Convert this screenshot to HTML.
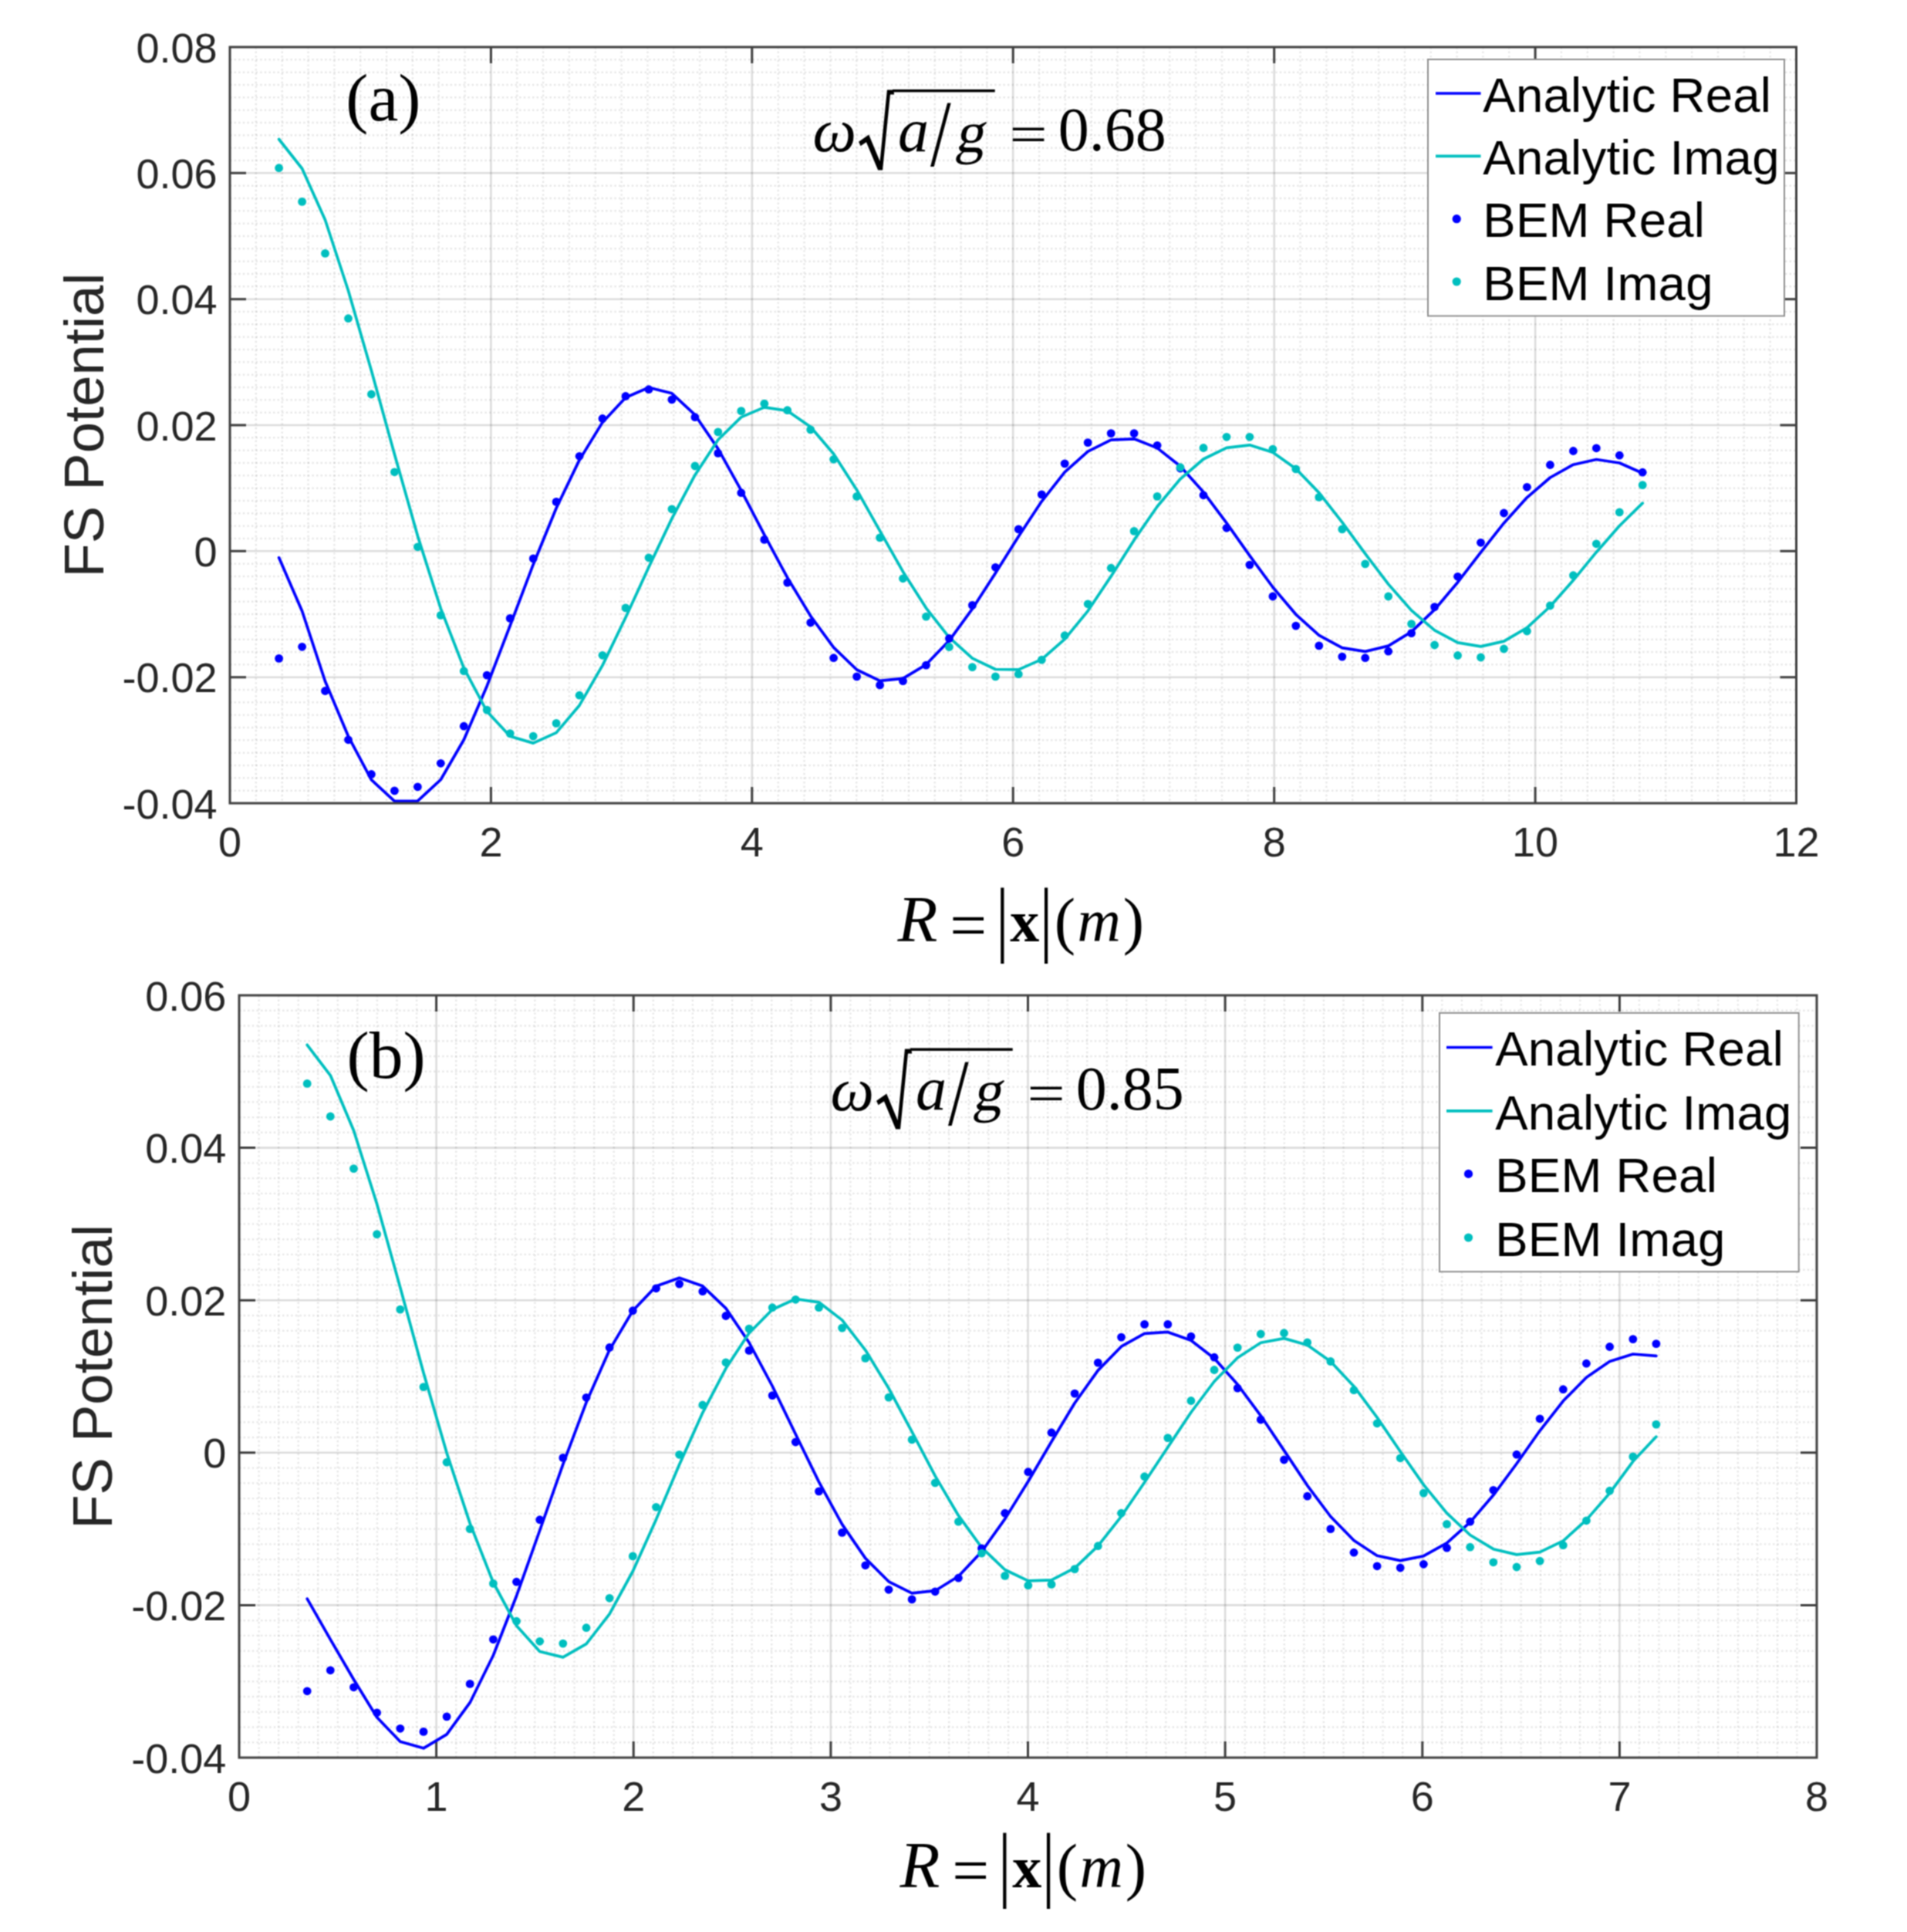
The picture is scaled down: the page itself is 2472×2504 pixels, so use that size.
<!DOCTYPE html>
<html><head><meta charset="utf-8"><title>FS Potential</title>
<style>html,body{margin:0;padding:0;background:#fff;width:2472px;height:2504px;overflow:hidden}svg{display:block}</style>
</head><body>
<svg width="2472" height="2504" viewBox="0 0 2472 2504">
<defs><filter id="soft" x="0" y="0" width="2472" height="2504" filterUnits="userSpaceOnUse" color-interpolation-filters="sRGB"><feConvolveMatrix order="3" kernelMatrix="1 2 1 2 4 2 1 2 1" divisor="16" edgeMode="duplicate"/></filter></defs>
<g filter="url(#soft)">
<rect width="2472" height="2504" fill="#fff"/>
<path d="M331.8 61V1041M365.7 61V1041M399.5 61V1041M433.4 61V1041M467.2 61V1041M501.1 61V1041M534.9 61V1041M568.7 61V1041M602.6 61V1041M670.3 61V1041M704.1 61V1041M737.9 61V1041M771.8 61V1041M805.6 61V1041M839.5 61V1041M873.3 61V1041M907.1 61V1041M941 61V1041M1008.7 61V1041M1042.5 61V1041M1076.4 61V1041M1110.2 61V1041M1144 61V1041M1177.9 61V1041M1211.7 61V1041M1245.6 61V1041M1279.4 61V1041M1347.1 61V1041M1380.9 61V1041M1414.8 61V1041M1448.6 61V1041M1482.5 61V1041M1516.3 61V1041M1550.1 61V1041M1584 61V1041M1617.8 61V1041M1685.5 61V1041M1719.4 61V1041M1753.2 61V1041M1787 61V1041M1820.9 61V1041M1854.7 61V1041M1888.6 61V1041M1922.4 61V1041M1956.2 61V1041M2023.9 61V1041M2057.8 61V1041M2091.6 61V1041M2125.4 61V1041M2159.3 61V1041M2193.1 61V1041M2227 61V1041M2260.8 61V1041M2294.7 61V1041" stroke="#262626" stroke-opacity="0.11" stroke-width="2.4" stroke-dasharray="2.4 3.2" fill="none"/>
<path d="M298 1024.7H2328.5M298 1008.3H2328.5M298 992H2328.5M298 975.7H2328.5M298 959.3H2328.5M298 943H2328.5M298 926.7H2328.5M298 910.3H2328.5M298 894H2328.5M298 861.3H2328.5M298 845H2328.5M298 828.7H2328.5M298 812.3H2328.5M298 796H2328.5M298 779.7H2328.5M298 763.3H2328.5M298 747H2328.5M298 730.7H2328.5M298 698H2328.5M298 681.7H2328.5M298 665.3H2328.5M298 649H2328.5M298 632.7H2328.5M298 616.3H2328.5M298 600H2328.5M298 583.7H2328.5M298 567.3H2328.5M298 534.7H2328.5M298 518.3H2328.5M298 502H2328.5M298 485.7H2328.5M298 469.3H2328.5M298 453H2328.5M298 436.7H2328.5M298 420.3H2328.5M298 404H2328.5M298 371.3H2328.5M298 355H2328.5M298 338.7H2328.5M298 322.3H2328.5M298 306H2328.5M298 289.7H2328.5M298 273.3H2328.5M298 257H2328.5M298 240.7H2328.5M298 208H2328.5M298 191.7H2328.5M298 175.3H2328.5M298 159H2328.5M298 142.7H2328.5M298 126.3H2328.5M298 110H2328.5M298 93.7H2328.5M298 77.3H2328.5" stroke="#262626" stroke-opacity="0.11" stroke-width="2.4" stroke-dasharray="2.4 3.2" fill="none"/>
<path d="M636.4 61V1041M974.8 61V1041M1313.2 61V1041M1651.7 61V1041M1990.1 61V1041" stroke="#262626" stroke-opacity="0.16" stroke-width="2.6" fill="none"/>
<path d="M298 877.7H2328.5M298 714.3H2328.5M298 551H2328.5M298 387.7H2328.5M298 224.3H2328.5" stroke="#262626" stroke-opacity="0.16" stroke-width="2.6" fill="none"/>
<path d="M636.4 1041V1020M636.4 61V82M974.8 1041V1020M974.8 61V82M1313.2 1041V1020M1313.2 61V82M1651.7 1041V1020M1651.7 61V82M1990.1 1041V1020M1990.1 61V82M298 877.7H319M2328.5 877.7H2307.5M298 714.3H319M2328.5 714.3H2307.5M298 551H319M2328.5 551H2307.5M298 387.7H319M2328.5 387.7H2307.5M298 224.3H319M2328.5 224.3H2307.5" stroke="#404040" stroke-width="3" fill="none"/>
<polyline points="361.6,722.8 391.6,792 421.5,883 451.5,954.3 481.4,1010.7 511.4,1038.4 541.4,1038.1 571.3,1010.5 601.3,958.8 631.2,889.2 661.2,810.9 691.2,731.7 721.1,658.5 751.1,596.1 781,547.4 811,515.2 841,502.2 870.9,509.8 900.9,537.7 930.8,581.6 960.8,635.6 990.8,693.2 1020.7,748.7 1050.7,798.3 1080.6,839.1 1110.6,868 1140.6,882.3 1170.5,879.4 1200.5,861.3 1230.4,830.3 1260.4,789.2 1290.4,742.8 1320.3,695.2 1350.3,649.8 1380.2,611.9 1410.2,585.1 1440.2,570.1 1470.1,568.8 1500.1,580.6 1530,604.2 1560,637.8 1590,677.9 1619.9,720.1 1649.9,761 1679.8,796.3 1709.8,823.4 1739.8,839.6 1769.7,844.4 1799.7,837.1 1829.6,818.9 1859.6,790.2 1889.6,754.7 1919.5,715.8 1949.5,677.9 1979.4,644.8 2009.4,619 2039.4,602.2 2069.3,595.5 2099.3,600 2129.2,613.2" fill="none" stroke="#0000ff" stroke-width="3.7" stroke-linejoin="round" stroke-linecap="round"/>
<polyline points="361.6,180.5 391.6,218.5 421.5,285 451.5,376.8 481.4,480.3 511.4,588.8 541.4,694.6 571.3,788.6 601.3,865.8 631.2,922 661.2,954.3 691.2,963.1 721.1,949.6 751.1,914.2 781,862.4 811,800.3 841,735.1 870.9,672.1 900.9,615.7 930.8,570 960.8,540.6 990.8,527.9 1020.7,532.5 1050.7,553.2 1080.6,588.3 1110.6,634.9 1140.6,688.1 1170.5,740.9 1200.5,788.1 1230.4,826.2 1260.4,853.2 1290.4,867.5 1320.3,867.9 1350.3,854.6 1380.2,828.4 1410.2,791.8 1440.2,746.9 1470.1,699.9 1500.1,656.5 1530,620.8 1560,595 1590,580.4 1619.9,576.8 1649.9,586.2 1679.8,607.5 1709.8,638.6 1739.8,676.9 1769.7,717.7 1799.7,757.1 1829.6,791.1 1859.6,816.9 1889.6,832.9 1919.5,837.9 1949.5,831.1 1979.4,813.7 2009.4,786 2039.4,752.1 2069.3,715.7 2099.3,681.5 2129.2,652.1" fill="none" stroke="#00bfbf" stroke-width="3.7" stroke-linejoin="round" stroke-linecap="round"/>
<g fill="#0000ff"><circle cx="361.6" cy="853.4" r="5.4"/><circle cx="391.6" cy="838.3" r="5.4"/><circle cx="421.5" cy="895.5" r="5.4"/><circle cx="451.5" cy="958.8" r="5.4"/><circle cx="481.4" cy="1003.5" r="5.4"/><circle cx="511.4" cy="1024.9" r="5.4"/><circle cx="541.4" cy="1019.8" r="5.4"/><circle cx="571.3" cy="989.3" r="5.4"/><circle cx="601.3" cy="941.2" r="5.4"/><circle cx="631.2" cy="875.1" r="5.4"/><circle cx="661.2" cy="801.4" r="5.4"/><circle cx="691.2" cy="724" r="5.4"/><circle cx="721.1" cy="650.4" r="5.4"/><circle cx="751.1" cy="591.3" r="5.4"/><circle cx="781" cy="542.5" r="5.4"/><circle cx="811" cy="513.5" r="5.4"/><circle cx="841" cy="504.7" r="5.4"/><circle cx="870.9" cy="517.9" r="5.4"/><circle cx="900.9" cy="540.7" r="5.4"/><circle cx="930.8" cy="587.4" r="5.4"/><circle cx="960.8" cy="638.7" r="5.4"/><circle cx="990.8" cy="699.4" r="5.4"/><circle cx="1020.7" cy="755.1" r="5.4"/><circle cx="1050.7" cy="807" r="5.4"/><circle cx="1080.6" cy="852.7" r="5.4"/><circle cx="1110.6" cy="876.9" r="5.4"/><circle cx="1140.6" cy="887.9" r="5.4"/><circle cx="1170.5" cy="882.6" r="5.4"/><circle cx="1200.5" cy="862.1" r="5.4"/><circle cx="1230.4" cy="827.5" r="5.4"/><circle cx="1260.4" cy="784.4" r="5.4"/><circle cx="1290.4" cy="735.3" r="5.4"/><circle cx="1320.3" cy="685.9" r="5.4"/><circle cx="1350.3" cy="640.9" r="5.4"/><circle cx="1380.2" cy="600.9" r="5.4"/><circle cx="1410.2" cy="573.6" r="5.4"/><circle cx="1440.2" cy="561.6" r="5.4"/><circle cx="1470.1" cy="561.6" r="5.4"/><circle cx="1500.1" cy="577.3" r="5.4"/><circle cx="1530" cy="607" r="5.4"/><circle cx="1560" cy="641.8" r="5.4"/><circle cx="1590" cy="684.3" r="5.4"/><circle cx="1619.9" cy="732.1" r="5.4"/><circle cx="1649.9" cy="773" r="5.4"/><circle cx="1679.8" cy="811.1" r="5.4"/><circle cx="1709.8" cy="836.9" r="5.4"/><circle cx="1739.8" cy="851.1" r="5.4"/><circle cx="1769.7" cy="852.7" r="5.4"/><circle cx="1799.7" cy="844.2" r="5.4"/><circle cx="1829.6" cy="820.6" r="5.4"/><circle cx="1859.6" cy="786.6" r="5.4"/><circle cx="1889.6" cy="747.3" r="5.4"/><circle cx="1919.5" cy="703.3" r="5.4"/><circle cx="1949.5" cy="665" r="5.4"/><circle cx="1979.4" cy="631.3" r="5.4"/><circle cx="2009.4" cy="602.5" r="5.4"/><circle cx="2039.4" cy="584.5" r="5.4"/><circle cx="2069.3" cy="580.8" r="5.4"/><circle cx="2099.3" cy="590.2" r="5.4"/><circle cx="2129.2" cy="612.2" r="5.4"/></g>
<g fill="#00bfbf"><circle cx="361.6" cy="217.7" r="5.4"/><circle cx="391.6" cy="261.4" r="5.4"/><circle cx="421.5" cy="328.4" r="5.4"/><circle cx="451.5" cy="412.7" r="5.4"/><circle cx="481.4" cy="511" r="5.4"/><circle cx="511.4" cy="611.8" r="5.4"/><circle cx="541.4" cy="708.8" r="5.4"/><circle cx="571.3" cy="797.4" r="5.4"/><circle cx="601.3" cy="869.7" r="5.4"/><circle cx="631.2" cy="920.1" r="5.4"/><circle cx="661.2" cy="950.6" r="5.4"/><circle cx="691.2" cy="954.1" r="5.4"/><circle cx="721.1" cy="937.4" r="5.4"/><circle cx="751.1" cy="901.2" r="5.4"/><circle cx="781" cy="849.3" r="5.4"/><circle cx="811" cy="787.9" r="5.4"/><circle cx="841" cy="722.8" r="5.4"/><circle cx="870.9" cy="659.8" r="5.4"/><circle cx="900.9" cy="604" r="5.4"/><circle cx="930.8" cy="559.9" r="5.4"/><circle cx="960.8" cy="532.6" r="5.4"/><circle cx="990.8" cy="523.2" r="5.4"/><circle cx="1020.7" cy="531.7" r="5.4"/><circle cx="1050.7" cy="556.9" r="5.4"/><circle cx="1080.6" cy="595.3" r="5.4"/><circle cx="1110.6" cy="643.4" r="5.4"/><circle cx="1140.6" cy="696.9" r="5.4"/><circle cx="1170.5" cy="749.8" r="5.4"/><circle cx="1200.5" cy="799.2" r="5.4"/><circle cx="1230.4" cy="838.5" r="5.4"/><circle cx="1260.4" cy="864.6" r="5.4"/><circle cx="1290.4" cy="876.9" r="5.4"/><circle cx="1320.3" cy="873.7" r="5.4"/><circle cx="1350.3" cy="855.2" r="5.4"/><circle cx="1380.2" cy="823.7" r="5.4"/><circle cx="1410.2" cy="782.8" r="5.4"/><circle cx="1440.2" cy="736.2" r="5.4"/><circle cx="1470.1" cy="688.4" r="5.4"/><circle cx="1500.1" cy="643.4" r="5.4"/><circle cx="1530" cy="605.7" r="5.4"/><circle cx="1560" cy="580.5" r="5.4"/><circle cx="1590" cy="566.3" r="5.4"/><circle cx="1619.9" cy="566.3" r="5.4"/><circle cx="1649.9" cy="582.1" r="5.4"/><circle cx="1679.8" cy="607.9" r="5.4"/><circle cx="1709.8" cy="644.4" r="5.4"/><circle cx="1739.8" cy="685.9" r="5.4"/><circle cx="1769.7" cy="730.9" r="5.4"/><circle cx="1799.7" cy="773" r="5.4"/><circle cx="1829.6" cy="808.6" r="5.4"/><circle cx="1859.6" cy="836" r="5.4"/><circle cx="1889.6" cy="849.5" r="5.4"/><circle cx="1919.5" cy="852" r="5.4"/><circle cx="1949.5" cy="841" r="5.4"/><circle cx="1979.4" cy="818" r="5.4"/><circle cx="2009.4" cy="785" r="5.4"/><circle cx="2039.4" cy="745.7" r="5.4"/><circle cx="2069.3" cy="704.8" r="5.4"/><circle cx="2099.3" cy="663.9" r="5.4"/><circle cx="2129.2" cy="628.6" r="5.4"/></g>
<rect x="298" y="61" width="2030.5" height="980" fill="none" stroke="#404040" stroke-width="3"/>
<g font-family="Liberation Sans, sans-serif" font-size="54" fill="#262626"><text x="298" y="1110" text-anchor="middle">0</text><text x="636.4" y="1110" text-anchor="middle">2</text><text x="974.8" y="1110" text-anchor="middle">4</text><text x="1313.2" y="1110" text-anchor="middle">6</text><text x="1651.7" y="1110" text-anchor="middle">8</text><text x="1990.1" y="1110" text-anchor="middle">10</text><text x="2328.5" y="1110" text-anchor="middle">12</text><text x="281.6" y="1060.5" text-anchor="end">-0.04</text><text x="281.6" y="897.2" text-anchor="end">-0.02</text><text x="281.6" y="733.8" text-anchor="end">0</text><text x="281.6" y="570.5" text-anchor="end">0.02</text><text x="281.6" y="407.2" text-anchor="end">0.04</text><text x="281.6" y="243.8" text-anchor="end">0.06</text><text x="281.6" y="80.5" text-anchor="end">0.08</text></g>
<text transform="translate(133.7 551) rotate(-90)" text-anchor="middle" font-family="Liberation Sans, sans-serif" font-size="72.5" fill="#262626">FS Potential</text>
<path d="M335.6 1290V2278M361.1 1290V2278M386.7 1290V2278M412.2 1290V2278M437.8 1290V2278M463.4 1290V2278M488.9 1290V2278M514.5 1290V2278M540.1 1290V2278M591.2 1290V2278M616.8 1290V2278M642.3 1290V2278M667.9 1290V2278M693.4 1290V2278M719 1290V2278M744.6 1290V2278M770.1 1290V2278M795.7 1290V2278M846.8 1290V2278M872.4 1290V2278M897.9 1290V2278M923.5 1290V2278M949.1 1290V2278M974.6 1290V2278M1000.2 1290V2278M1025.8 1290V2278M1051.3 1290V2278M1102.4 1290V2278M1128 1290V2278M1153.6 1290V2278M1179.1 1290V2278M1204.7 1290V2278M1230.2 1290V2278M1255.8 1290V2278M1281.4 1290V2278M1306.9 1290V2278M1358.1 1290V2278M1383.6 1290V2278M1409.2 1290V2278M1434.8 1290V2278M1460.3 1290V2278M1485.9 1290V2278M1511.4 1290V2278M1537 1290V2278M1562.6 1290V2278M1613.7 1290V2278M1639.2 1290V2278M1664.8 1290V2278M1690.4 1290V2278M1715.9 1290V2278M1741.5 1290V2278M1767.1 1290V2278M1792.6 1290V2278M1818.2 1290V2278M1869.3 1290V2278M1894.9 1290V2278M1920.4 1290V2278M1946 1290V2278M1971.6 1290V2278M1997.1 1290V2278M2022.7 1290V2278M2048.2 1290V2278M2073.8 1290V2278M2124.9 1290V2278M2150.5 1290V2278M2176.1 1290V2278M2201.6 1290V2278M2227.2 1290V2278M2252.8 1290V2278M2278.3 1290V2278M2303.9 1290V2278M2329.4 1290V2278" stroke="#262626" stroke-opacity="0.11" stroke-width="2.4" stroke-dasharray="2.4 3.2" fill="none"/>
<path d="M310 2258.2H2355M310 2238.5H2355M310 2218.7H2355M310 2199H2355M310 2179.2H2355M310 2159.4H2355M310 2139.7H2355M310 2119.9H2355M310 2100.2H2355M310 2060.6H2355M310 2040.9H2355M310 2021.1H2355M310 2001.4H2355M310 1981.6H2355M310 1961.8H2355M310 1942.1H2355M310 1922.3H2355M310 1902.6H2355M310 1863H2355M310 1843.3H2355M310 1823.5H2355M310 1803.8H2355M310 1784H2355M310 1764.2H2355M310 1744.5H2355M310 1724.7H2355M310 1705H2355M310 1665.4H2355M310 1645.7H2355M310 1625.9H2355M310 1606.2H2355M310 1586.4H2355M310 1566.6H2355M310 1546.9H2355M310 1527.1H2355M310 1507.4H2355M310 1467.8H2355M310 1448.1H2355M310 1428.3H2355M310 1408.6H2355M310 1388.8H2355M310 1369H2355M310 1349.3H2355M310 1329.5H2355M310 1309.8H2355" stroke="#262626" stroke-opacity="0.11" stroke-width="2.4" stroke-dasharray="2.4 3.2" fill="none"/>
<path d="M565.6 1290V2278M821.2 1290V2278M1076.9 1290V2278M1332.5 1290V2278M1588.1 1290V2278M1843.8 1290V2278M2099.4 1290V2278" stroke="#262626" stroke-opacity="0.16" stroke-width="2.6" fill="none"/>
<path d="M310 2080.4H2355M310 1882.8H2355M310 1685.2H2355M310 1487.6H2355" stroke="#262626" stroke-opacity="0.16" stroke-width="2.6" fill="none"/>
<path d="M565.6 2278V2257M565.6 1290V1311M821.2 2278V2257M821.2 1290V1311M1076.9 2278V2257M1076.9 1290V1311M1332.5 2278V2257M1332.5 1290V1311M1588.1 2278V2257M1588.1 1290V1311M1843.8 2278V2257M1843.8 1290V1311M2099.4 2278V2257M2099.4 1290V1311M310 2080.4H331M2355 2080.4H2334M310 1882.8H331M2355 1882.8H2334M310 1685.2H331M2355 1685.2H2334M310 1487.6H331M2355 1487.6H2334" stroke="#404040" stroke-width="3" fill="none"/>
<polyline points="398.2,2072.2 428.3,2124.8 458.5,2176.7 488.6,2225.8 518.8,2257.2 549,2265.8 579.1,2247.9 609.2,2206.7 639.4,2145.5 669.5,2068.5 699.7,1983.5 729.8,1897.8 760,1817.6 790.1,1749.6 820.3,1698.8 850.5,1667.1 880.6,1656.3 910.8,1666.8 940.9,1695.6 971,1740 1001.2,1796.5 1031.3,1858.7 1061.5,1920.6 1091.6,1975.6 1121.8,2019.6 1152,2049.8 1182.1,2064.8 1212.2,2061.7 1242.4,2043 1272.5,2011 1302.7,1968.6 1332.8,1920 1363,1868.5 1393.1,1818.5 1423.3,1776.1 1453.5,1745.2 1483.6,1728.3 1513.8,1726.4 1543.9,1737.3 1574,1760.5 1604.2,1794.3 1634.3,1834.8 1664.5,1879.9 1694.7,1925.3 1724.8,1965.5 1755,1996.5 1785.1,2016.3 1815.2,2022.6 1845.4,2016.7 1875.5,1999.9 1905.7,1972.9 1935.8,1937.8 1966,1897 1996.1,1854.3 2026.3,1815.8 2056.4,1785.2 2086.6,1764.5 2116.8,1755 2146.9,1757.3" fill="none" stroke="#0000ff" stroke-width="3.7" stroke-linejoin="round" stroke-linecap="round"/>
<polyline points="398.2,1354.3 428.3,1393.8 458.5,1465.2 488.6,1560.4 518.8,1668.7 549,1779.3 579.1,1883.1 609.2,1974.4 639.4,2051 669.5,2106.9 699.7,2140.5 729.8,2147.9 760,2130.7 790.1,2091.9 820.3,2036.5 850.5,1969.4 880.6,1898.3 910.8,1831.1 940.9,1773.6 971,1727.8 1001.2,1697.3 1031.3,1683.5 1061.5,1687.8 1091.6,1710.9 1121.8,1749.8 1152,1799.3 1182.1,1855.6 1212.2,1912.9 1242.4,1964.2 1272.5,2005.7 1302.7,2034.5 1332.8,2048.9 1363,2047.8 1393.1,2032.3 1423.3,2003.7 1453.5,1965.3 1483.6,1921.2 1513.8,1875.7 1543.9,1830.5 1574,1790.5 1604.2,1759.7 1634.3,1740.2 1664.5,1734.6 1694.7,1743.2 1724.8,1764.6 1755,1796.7 1785.1,1837.1 1815.2,1881.3 1845.4,1924.4 1875.5,1961.2 1905.7,1989.5 1935.8,2007.7 1966,2014.9 1996.1,2011.6 2026.3,1997.1 2056.4,1969.9 2086.6,1935.2 2116.8,1894.1 2146.9,1862.1" fill="none" stroke="#00bfbf" stroke-width="3.7" stroke-linejoin="round" stroke-linecap="round"/>
<g fill="#0000ff"><circle cx="398.2" cy="2191.8" r="5.4"/><circle cx="428.3" cy="2164.8" r="5.4"/><circle cx="458.5" cy="2186.8" r="5.4"/><circle cx="488.6" cy="2219.8" r="5.4"/><circle cx="518.8" cy="2240.3" r="5.4"/><circle cx="549" cy="2244.4" r="5.4"/><circle cx="579.1" cy="2224.9" r="5.4"/><circle cx="609.2" cy="2182.4" r="5.4"/><circle cx="639.4" cy="2124.8" r="5.4"/><circle cx="669.5" cy="2050.2" r="5.4"/><circle cx="699.7" cy="1969.7" r="5.4"/><circle cx="729.8" cy="1889.4" r="5.4"/><circle cx="760" cy="1811.3" r="5.4"/><circle cx="790.1" cy="1746.5" r="5.4"/><circle cx="820.3" cy="1698.7" r="5.4"/><circle cx="850.5" cy="1669.8" r="5.4"/><circle cx="880.6" cy="1664.1" r="5.4"/><circle cx="910.8" cy="1673.7" r="5.4"/><circle cx="940.9" cy="1705.5" r="5.4"/><circle cx="971" cy="1750.4" r="5.4"/><circle cx="1001.2" cy="1808.6" r="5.4"/><circle cx="1031.3" cy="1869" r="5.4"/><circle cx="1061.5" cy="1932.9" r="5.4"/><circle cx="1091.6" cy="1986.4" r="5.4"/><circle cx="1121.8" cy="2028.8" r="5.4"/><circle cx="1152" cy="2060.3" r="5.4"/><circle cx="1182.1" cy="2072.9" r="5.4"/><circle cx="1212.2" cy="2062.8" r="5.4"/><circle cx="1242.4" cy="2045.2" r="5.4"/><circle cx="1272.5" cy="2006.8" r="5.4"/><circle cx="1302.7" cy="1961.2" r="5.4"/><circle cx="1332.8" cy="1907.7" r="5.4"/><circle cx="1363" cy="1856.7" r="5.4"/><circle cx="1393.1" cy="1806.1" r="5.4"/><circle cx="1423.3" cy="1766.1" r="5.4"/><circle cx="1453.5" cy="1733.1" r="5.4"/><circle cx="1483.6" cy="1716.4" r="5.4"/><circle cx="1513.8" cy="1716.4" r="5.4"/><circle cx="1543.9" cy="1732.1" r="5.4"/><circle cx="1574" cy="1759.2" r="5.4"/><circle cx="1604.2" cy="1799.1" r="5.4"/><circle cx="1634.3" cy="1840" r="5.4"/><circle cx="1664.5" cy="1892" r="5.4"/><circle cx="1694.7" cy="1939.2" r="5.4"/><circle cx="1724.8" cy="1981.6" r="5.4"/><circle cx="1755" cy="2012.2" r="5.4"/><circle cx="1785.1" cy="2029.8" r="5.4"/><circle cx="1815.2" cy="2032" r="5.4"/><circle cx="1845.4" cy="2027.3" r="5.4"/><circle cx="1875.5" cy="2006.2" r="5.4"/><circle cx="1905.7" cy="1972.2" r="5.4"/><circle cx="1935.8" cy="1931.3" r="5.4"/><circle cx="1966" cy="1885.2" r="5.4"/><circle cx="1996.1" cy="1838.8" r="5.4"/><circle cx="2026.3" cy="1800.7" r="5.4"/><circle cx="2056.4" cy="1767.2" r="5.4"/><circle cx="2086.6" cy="1745.5" r="5.4"/><circle cx="2116.8" cy="1735.6" r="5.4"/><circle cx="2146.9" cy="1741.6" r="5.4"/></g>
<g fill="#00bfbf"><circle cx="398.2" cy="1404.4" r="5.4"/><circle cx="428.3" cy="1447" r="5.4"/><circle cx="458.5" cy="1514.6" r="5.4"/><circle cx="488.6" cy="1599.6" r="5.4"/><circle cx="518.8" cy="1697.1" r="5.4"/><circle cx="549" cy="1797.6" r="5.4"/><circle cx="579.1" cy="1895.2" r="5.4"/><circle cx="609.2" cy="1981.6" r="5.4"/><circle cx="639.4" cy="2052.4" r="5.4"/><circle cx="669.5" cy="2101.2" r="5.4"/><circle cx="699.7" cy="2127.3" r="5.4"/><circle cx="729.8" cy="2130.1" r="5.4"/><circle cx="760" cy="2109.7" r="5.4"/><circle cx="790.1" cy="2071.3" r="5.4"/><circle cx="820.3" cy="2016.9" r="5.4"/><circle cx="850.5" cy="1953.3" r="5.4"/><circle cx="880.6" cy="1885.3" r="5.4"/><circle cx="910.8" cy="1821" r="5.4"/><circle cx="940.9" cy="1765.8" r="5.4"/><circle cx="971" cy="1722.1" r="5.4"/><circle cx="1001.2" cy="1694.7" r="5.4"/><circle cx="1031.3" cy="1684.3" r="5.4"/><circle cx="1061.5" cy="1694.7" r="5.4"/><circle cx="1091.6" cy="1721.1" r="5.4"/><circle cx="1121.8" cy="1760.4" r="5.4"/><circle cx="1152" cy="1811.1" r="5.4"/><circle cx="1182.1" cy="1865.9" r="5.4"/><circle cx="1212.2" cy="1921.9" r="5.4"/><circle cx="1242.4" cy="1972.2" r="5.4"/><circle cx="1272.5" cy="2013.1" r="5.4"/><circle cx="1302.7" cy="2042.4" r="5.4"/><circle cx="1332.8" cy="2054.7" r="5.4"/><circle cx="1363" cy="2053.4" r="5.4"/><circle cx="1393.1" cy="2033.6" r="5.4"/><circle cx="1423.3" cy="2003.7" r="5.4"/><circle cx="1453.5" cy="1961.2" r="5.4"/><circle cx="1483.6" cy="1913.7" r="5.4"/><circle cx="1513.8" cy="1863.6" r="5.4"/><circle cx="1543.9" cy="1815.5" r="5.4"/><circle cx="1574" cy="1775.5" r="5.4"/><circle cx="1604.2" cy="1746.6" r="5.4"/><circle cx="1634.3" cy="1729" r="5.4"/><circle cx="1664.5" cy="1727.7" r="5.4"/><circle cx="1694.7" cy="1740" r="5.4"/><circle cx="1724.8" cy="1764.5" r="5.4"/><circle cx="1755" cy="1801.7" r="5.4"/><circle cx="1785.1" cy="1844.8" r="5.4"/><circle cx="1815.2" cy="1889.8" r="5.4"/><circle cx="1845.4" cy="1935.1" r="5.4"/><circle cx="1875.5" cy="1975.4" r="5.4"/><circle cx="1905.7" cy="2005.2" r="5.4"/><circle cx="1935.8" cy="2024.8" r="5.4"/><circle cx="1966" cy="2031" r="5.4"/><circle cx="1996.1" cy="2023.2" r="5.4"/><circle cx="2026.3" cy="2002.7" r="5.4"/><circle cx="2056.4" cy="1970.8" r="5.4"/><circle cx="2086.6" cy="1932.2" r="5.4"/><circle cx="2116.8" cy="1887.9" r="5.4"/><circle cx="2146.9" cy="1846.1" r="5.4"/></g>
<rect x="310" y="1290" width="2045" height="988" fill="none" stroke="#404040" stroke-width="3"/>
<g font-family="Liberation Sans, sans-serif" font-size="54" fill="#262626"><text x="310" y="2347" text-anchor="middle">0</text><text x="565.6" y="2347" text-anchor="middle">1</text><text x="821.2" y="2347" text-anchor="middle">2</text><text x="1076.9" y="2347" text-anchor="middle">3</text><text x="1332.5" y="2347" text-anchor="middle">4</text><text x="1588.1" y="2347" text-anchor="middle">5</text><text x="1843.8" y="2347" text-anchor="middle">6</text><text x="2099.4" y="2347" text-anchor="middle">7</text><text x="2355" y="2347" text-anchor="middle">8</text><text x="293.4" y="2297.5" text-anchor="end">-0.04</text><text x="293.4" y="2099.9" text-anchor="end">-0.02</text><text x="293.4" y="1902.3" text-anchor="end">0</text><text x="293.4" y="1704.7" text-anchor="end">0.02</text><text x="293.4" y="1507.1" text-anchor="end">0.04</text><text x="293.4" y="1309.5" text-anchor="end">0.06</text></g>
<text transform="translate(144.8 1784.3) rotate(-90)" text-anchor="middle" font-family="Liberation Sans, sans-serif" font-size="72.5" fill="#262626">FS Potential</text>
<text x="1163.6" y="1220.2" font-size="85" font-family="Liberation Serif, serif" font-style="italic" >R</text>
<text x="1231.3" y="1227.7" font-size="85" font-family="Liberation Serif, serif"  >=</text>
<text transform="translate(1290.7 1225.5) scale(0.8 1)" font-size="107" font-family="Liberation Serif, serif">|</text>
<text x="1309.3" y="1220.2" font-size="76" font-family="Liberation Serif, serif" font-weight="bold" >x</text>
<text transform="translate(1347.4 1225.5) scale(0.8 1)" font-size="107" font-family="Liberation Serif, serif">|</text>
<text x="1366.7" y="1221.2" font-size="82" font-family="Liberation Serif, serif"  >(</text>
<text x="1396.6" y="1220.2" font-size="78" font-family="Liberation Serif, serif" font-style="italic" >m</text>
<text x="1455.8" y="1221.2" font-size="82" font-family="Liberation Serif, serif"  >)</text>
<text x="1166.6" y="2445.5" font-size="85" font-family="Liberation Serif, serif" font-style="italic" >R</text>
<text x="1234.3" y="2453" font-size="85" font-family="Liberation Serif, serif"  >=</text>
<text transform="translate(1293.7 2450.8) scale(0.8 1)" font-size="107" font-family="Liberation Serif, serif">|</text>
<text x="1312.3" y="2445.5" font-size="76" font-family="Liberation Serif, serif" font-weight="bold" >x</text>
<text transform="translate(1350.4 2450.8) scale(0.8 1)" font-size="107" font-family="Liberation Serif, serif">|</text>
<text x="1369.7" y="2446.5" font-size="82" font-family="Liberation Serif, serif"  >(</text>
<text x="1399.6" y="2445.5" font-size="78" font-family="Liberation Serif, serif" font-style="italic" >m</text>
<text x="1458.8" y="2446.5" font-size="82" font-family="Liberation Serif, serif"  >)</text>
<text x="1053.4" y="196" font-size="80" font-family="Liberation Serif, serif" font-style="italic">ω</text>
<text transform="matrix(0.8468 0 0.156 1.193 1109.7 210.2)" font-size="100" font-family="DejaVu Math TeX Gyre, Liberation Serif, serif">√</text>
<rect x="1157" y="115.9" width="132.7" height="3.5" fill="#000"/>
<text x="1164.1" y="195.5" font-size="80" font-family="Liberation Serif, serif" font-style="italic">a</text>
<text transform="translate(1206 215) scale(0.78 1)" font-size="123" font-family="Liberation Serif, serif">/</text>
<text transform="translate(1237.5 196.9) skewX(-10)" font-size="76" font-family="Liberation Serif, serif">g</text>
<text transform="translate(1308.6 198.1) scale(1.09 0.86)" font-size="80" font-family="Liberation Serif, serif">=</text>
<text x="1371.8" y="195" font-size="80" font-family="Liberation Serif, serif" >0.68</text>
<text x="1076.4" y="1438.5" font-size="80" font-family="Liberation Serif, serif" font-style="italic">ω</text>
<text transform="matrix(0.8468 0 0.156 1.193 1132.7 1452.7)" font-size="100" font-family="DejaVu Math TeX Gyre, Liberation Serif, serif">√</text>
<rect x="1180" y="1358.4" width="132.7" height="3.5" fill="#000"/>
<text x="1187.1" y="1438" font-size="80" font-family="Liberation Serif, serif" font-style="italic">a</text>
<text transform="translate(1229 1457.5) scale(0.78 1)" font-size="123" font-family="Liberation Serif, serif">/</text>
<text transform="translate(1260.5 1439.4) skewX(-10)" font-size="76" font-family="Liberation Serif, serif">g</text>
<text transform="translate(1331.6 1440.6) scale(1.09 0.86)" font-size="80" font-family="Liberation Serif, serif">=</text>
<text x="1394.8" y="1437.5" font-size="80" font-family="Liberation Serif, serif" >0.85</text>
<text x="448.3" y="155.5" font-family="Liberation Serif, serif" font-size="87.5" fill="#000">(a)</text>
<text x="449.6" y="1396.6" font-family="Liberation Serif, serif" font-size="87.5" fill="#000">(b)</text>
<rect x="1851" y="77" width="462" height="332.5" fill="#fff" stroke="#8f8f8f" stroke-width="2"/>
<line x1="1861" y1="121" x2="1919.5" y2="121" stroke="#0000ff" stroke-width="3.7"/>
<line x1="1861" y1="202.4" x2="1919.5" y2="202.4" stroke="#00bfbf" stroke-width="3.7"/>
<circle cx="1888.2" cy="283.7" r="5.6" fill="#0000ff"/>
<circle cx="1888.2" cy="365" r="5.6" fill="#00bfbf"/>
<g font-family="Liberation Sans, sans-serif" font-size="63.5" letter-spacing="0.25" fill="#000"><text x="1922.3" y="144.7">Analytic Real</text><text x="1922.3" y="226.1">Analytic Imag</text><text x="1922.3" y="307.4">BEM Real</text><text x="1922.3" y="388.7">BEM Imag</text></g>
<rect x="1866" y="1312.8" width="465.7" height="335.4" fill="#fff" stroke="#8f8f8f" stroke-width="2"/>
<line x1="1875" y1="1357.5" x2="1934.6" y2="1357.5" stroke="#0000ff" stroke-width="3.7"/>
<line x1="1875" y1="1439.9" x2="1934.6" y2="1439.9" stroke="#00bfbf" stroke-width="3.7"/>
<circle cx="1903.5" cy="1521.4" r="5.6" fill="#0000ff"/>
<circle cx="1903.5" cy="1604" r="5.6" fill="#00bfbf"/>
<g font-family="Liberation Sans, sans-serif" font-size="63.5" letter-spacing="0.25" fill="#000"><text x="1938.2" y="1381.2">Analytic Real</text><text x="1938.2" y="1463.6">Analytic Imag</text><text x="1938.2" y="1545.1">BEM Real</text><text x="1938.2" y="1627.7">BEM Imag</text></g>
</g>
</svg>
</body></html>
